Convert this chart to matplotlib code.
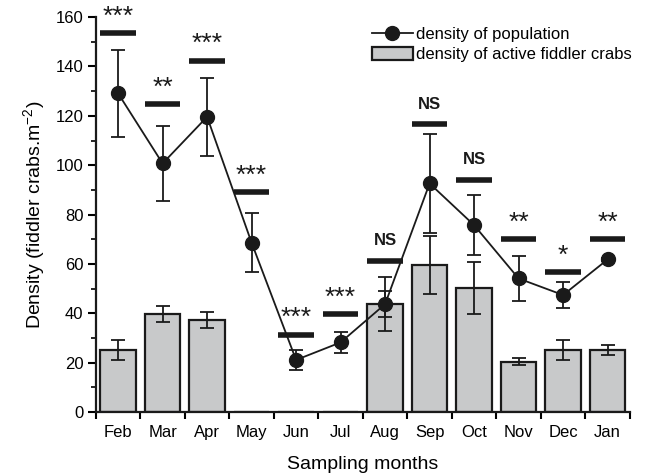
import matplotlib
matplotlib.use("Agg")
import matplotlib.pyplot as plt
import numpy as np
from matplotlib.ticker import MultipleLocator, FixedLocator

plt.rcParams['font.family'] = ['Liberation Sans', 'DejaVu Sans']
plt.rcParams['mathtext.fontset'] = 'custom'
plt.rcParams['mathtext.rm'] = 'Liberation Sans'
plt.rcParams['mathtext.it'] = 'Liberation Sans'

months = ["Feb", "Mar", "Apr", "May", "Jun", "Jul", "Aug", "Sep", "Oct", "Nov", "Dec", "Jan"]
pop_mean = [129.1, 100.7, 119.6, 68.6, 21.1, 28.2, 43.7, 92.6, 75.7, 54.1, 47.4, 61.8]
pop_err = [17.7, 15.3, 15.8, 12.0, 4.0, 4.3, 10.8, 19.9, 12.2, 9.1, 5.1, 0.6]
active_mean = [25.1, 39.7, 37.3, 0, 0, 0, 43.7, 59.5, 50.1, 20.4, 25.1, 25.1]
active_err = [4.2, 3.4, 3.1, 0, 0, 0, 5.3, 11.8, 10.5, 1.5, 4.2, 2.0]
sig_level = [153.4, 124.6, 142.4, 89.0, 31.2, 39.6, 61.2, 116.6, 94.2, 69.9, 56.6, 69.9]
sig_label = ["***", "**", "***", "***", "***", "***", "NS", "NS", "NS", "**", "*", "**"]

fig = plt.figure(figsize=(6.52, 4.75), dpi=100)
ax = fig.add_axes([0.147, 0.1326, 0.819, 0.8314])
x = np.arange(len(months))
dark = "#1a1a1a"

bw = 0.8
has_bar = [m > 0 for m in active_mean]
ax.bar(x, active_mean, width=bw, color="#c8c9ca", edgecolor=dark, linewidth=1.6,
       label="density of active fiddler crabs", zorder=2)
xb = [xi for xi, h in zip(x, has_bar) if h]
ab = [m for m, h in zip(active_mean, has_bar) if h]
ae = [e for e, h in zip(active_err, has_bar) if h]
ax.errorbar(xb, ab, yerr=ae, fmt="none", ecolor=dark, elinewidth=1.3, capsize=5, capthick=1.3, zorder=3)

ax.errorbar(x, pop_mean, yerr=pop_err, fmt="none", ecolor=dark, elinewidth=1.3, capsize=5, capthick=1.3, zorder=4)
ax.plot(x, pop_mean, "-o", color=dark, lw=1.3, markersize=10, zorder=5, label="density of population")

for xi, lvl, lab in zip(x, sig_level, sig_label):
    ax.plot([xi - bw / 2, xi + bw / 2], [lvl, lvl], color=dark, lw=4, solid_capstyle="butt", zorder=5)
    if lab == "NS":
        ax.text(xi, lvl + 6.3, lab, ha="center", va="baseline", fontsize=12, fontweight="bold", color=dark)
    else:
        ax.text(xi, lvl + 4.0, lab, ha="center", va="baseline", fontsize=19, color=dark, clip_on=False)

ax.set_xlim(-0.5, len(months) - 0.5)
ax.set_ylim(0, 160)
ax.set_xticks(x)
ax.set_xticklabels(months, fontsize=12)
ax.xaxis.set_minor_locator(FixedLocator(np.arange(-0.5, len(months), 1.0)))
ax.tick_params(axis="x", which="major", length=0, pad=9)
ax.tick_params(axis="x", which="minor", length=5, width=1.5, direction="out")
ax.yaxis.set_major_locator(MultipleLocator(20))
ax.yaxis.set_minor_locator(MultipleLocator(10))
ax.tick_params(axis="y", which="major", length=6, width=1.5, labelsize=12, pad=3)
ax.tick_params(axis="y", which="minor", length=3.5, width=1.2)
for s in ["top", "right"]:
    ax.spines[s].set_visible(False)
for s in ["left", "bottom"]:
    ax.spines[s].set_linewidth(1.6)
    ax.spines[s].set_color(dark)

ax.set_xlabel("Sampling months", fontsize=14, labelpad=12)
ax.set_ylabel("Density (fiddler crabs.m$^{-2}$)", fontsize=14, labelpad=6)

h, l = ax.get_legend_handles_labels()
order = [l.index("density of population"), l.index("density of active fiddler crabs")]
ax.legend([h[i] for i in order], [l[i] for i in order], loc="upper left",
          bbox_to_anchor=(0.517, 0.975), frameon=False, fontsize=12,
          handlelength=2.45, handletextpad=0.2, labelspacing=0.3,
          borderaxespad=0, borderpad=0, handleheight=0.8)

fig.savefig("out.png", dpi=100)
